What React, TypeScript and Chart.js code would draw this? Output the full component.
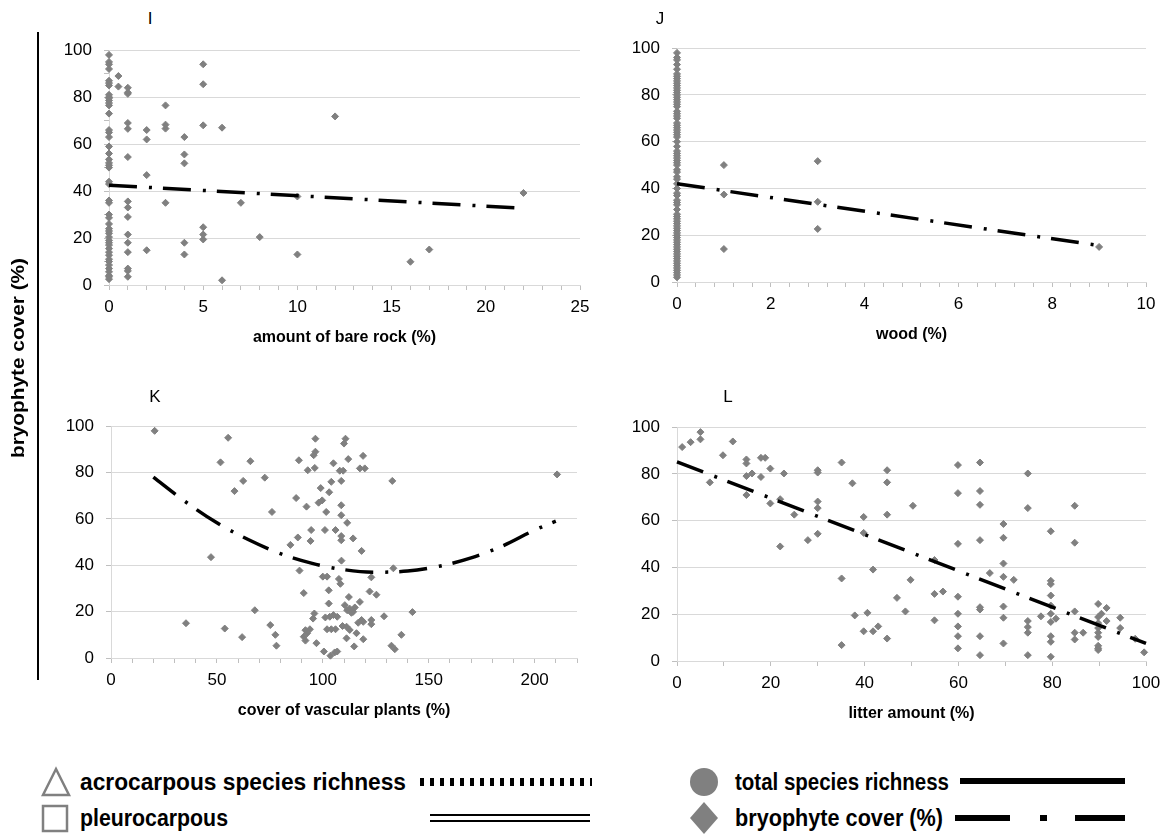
import React, { useEffect, useRef } from 'react';
import { Chart, registerables } from 'chart.js';

Chart.register(...registerables);

const FONT = "'Liberation Sans', Arial, sans-serif";
const GRAY = '#808080';

// ---------- Panel I : amount of bare rock ----------
const rockX = [
  0,0,0,0,0,0,0,0,0,0,0,0,0,0,0,0,0,0,0,0,0,0,0,0,0,0,0,0,0,0,0,0,0,0,0,0,0,0,0,0,0,0,0,0,0,0,0,0,
  0.5,0.5,
  1,1,1,1,1,1,1,1,1,1,1,1,1,1,1,
  2,2,2,2,
  3,3,3,3,
  4,4,4,4,4,
  5,5,5,5,5,5,
  6,6,7,8,10,10,12,16,17,22,
];
const rockY = [
  98,95,94,92,87,86,85,81,80,79.6,78.6,77.5,76.5,73,66,65,63,59,56,53.5,52,51,50,44,43,36,35,30,28.6,26,24,23,22,20.4,19,18,17,15.5,14,12.7,11,10,8.5,7,5.6,4,3.5,2.5,
  89,84.5,
  84,82,81.4,69,66.5,54.5,35.6,33,29,21.5,18,14,7,6,3.5,
  66,62,46.8,14.8,
  76.5,68.3,66.6,35,
  63,55.6,51.8,18,13,
  94,85.5,68,24.6,21.5,19.4,
  67,2,35,20.4,37.7,13,71.8,9.9,15.1,39.2,
];
const rockTrendX = [0, 22];
const rockTrendY = [42.5, 32.7];

// ---------- Panel J : wood ----------
const woodX = [
  0,0,0,0,0,0,0,0,0,0,0,0,0,0,0,0,0,0,0,0,0,0,0,0,0,0,0,0,0,0,0,0,0,0,0,0,0,0,0,0,
  0,0,0,0,0,0,0,0,0,0,0,0,0,0,0,0,0,0,0,0,0,0,0,0,0,0,0,0,0,0,0,0,0,0,0,0,0,0,0,0,
  1,1,1,3,3,3,9,
];
const woodY = [
  98,96,95,93,91,89,88,87,86,85,84,83,82,81,80,79,78,77,76,75,73,72,71,70,68,67,66,65,64,63,62,60,58,56,55,54,53,52,51,50,
  48,47,45,44,42,40,38,37,35,34,33,31,29,28,27,26,25,24,23,22,21,20,19,18,17,16,15,14,13,12,11,10,9,8,7,6,5,4,3,2,
  50,37.4,14.1,51.7,34.3,22.7,15,
];
const woodTrendX = [0, 9];
const woodTrendY = [42, 15.6];

// ---------- Panel K : cover of vascular plants ----------
const vascX = [
  20.6,55.3,51.7,65.8,58.3,62.4,72.6,76,47.2,35.4,53.7,61.9,67.9,75.2,77.6,78.1,
  88.7,92.9,95.7,96.5,96.5,96.2,105,110.7,110,112,108,109.6,119,117.5,119.8,
  87.4,92.3,98,99.7,101.6,99,103,104,108.7,108.7,108.7,111.5,
  94.5,88.2,84.7,94.2,101,106,108.7,108.7,114.3,118.3,108.8,132.8,210.6,
  89,100,102,102.8,91,102.8,107.6,108.3,112.3,122.9,133.3,122.1,125.3,
  96,95.4,101.2,103.3,105,106.8,102,104,106,91.8,92.6,93.9,91,91.8,97,100.5,103.6,106.8,105.6,
  111.2,111.5,110.4,112.7,115.1,117.5,114.3,113.5,109.3,112.7,116.7,118.3,119.1,122.9,122.9,115.9,111.2,119.1,114.8,128.9,142.3,137.1,132.4,134,
];
const vascY = [
  98,95,84.4,84.9,72,76.4,77.8,63,43.5,15,12.7,9,20.6,14.2,10,5.3,
  85.3,81,87.5,89,94.6,82,84,94.6,92.5,85.8,80.8,80.8,87.2,81.8,81.8,
  69,65.3,67,68,63,73.3,71.5,76,76.4,65.9,61.6,58.3,
  55.2,52,48.8,50.5,55.2,55.2,52.6,50.8,51.6,46.2,42,76.4,79.2,
  37.7,35.1,35.1,29.2,28,23.5,34.1,32,26.3,34.8,38.7,28.7,27.3,
  19.2,17,17.5,17.8,18.5,17.8,12.4,12.4,12.4,12,10.7,12.4,9.2,7.5,6.4,2.8,1,2.8,2.4,
  13.5,20.6,22.8,21.3,21.8,24.2,19.9,19.5,13.8,12.1,15.2,16.4,15.6,16.4,14.6,10.7,8.5,8.1,5,18,19.8,10,5.3,3.8,
];
const vascTrendX = [20, 35, 50, 65, 80, 95, 110, 125, 140, 155, 170, 185, 200, 210];
const vascTrendY = [78, 67.5, 58.3, 51, 45, 40.8, 38.1, 37, 37.5, 39.6, 43.2, 48.4, 55.2, 59];

// ---------- Panel L : litter amount ----------
const litterX = [
  1.1,2.9,5,5,7,9.8,11.9,14.8,14.8,14.8,14.8,16,17.9,18.8,17.9,19.9,19.9,22,22.8,22,25,27.9,30,30,30,30,30,
  35.1,35.1,35.1,37.4,37.9,39.8,39.8,40.6,39.8,41.8,41.8,42.9,44.8,44.8,44.8,44.8,46.9,48.7,49.8,50.3,
  54.9,54.9,56.7,54.9,59.9,59.9,59.9,59.9,59.9,59.9,59.9,59.9,64.6,64.6,64.6,64.6,64.6,64.6,64.6,64.6,
  66.7,69.6,69.6,69.6,69.6,69.6,69.6,69.6,71.8,74.8,74.8,74.8,74.8,74.8,74.8,77.6,
  79.7,79.7,79.7,79.7,79.7,79.7,79.7,79.7,79.7,79.7,80.8,84.8,84.8,84.8,84.8,84.8,86.6,
  89.8,90.5,89.8,89.8,89.8,89.8,89.8,89.8,89.8,89.8,91.6,91.6,94.5,94.5,97.7,99.6,
];
const litterY = [
  91.5,93.6,97.9,94.8,76.4,88,93.9,86.2,84.5,79.1,71,80.2,86.9,86.9,78.7,82.3,67.4,69.2,80.2,49,62.6,51.7,81.6,80.6,68.2,65.4,54.4,
  84.9,35.3,6.8,76,19.5,61.6,54.8,20.6,12.7,39.1,12.7,14.8,81.6,76.4,62.6,9.6,27,21.2,34.7,66.4,
  43.2,28.7,29.7,17.4,83.8,71.8,50.1,27.5,20.2,14.8,10.6,5.4,84.9,72.7,66.8,51.7,23,22,10.6,2.5,
  37.6,58.6,52.7,41.7,36,23.3,18.5,7.5,34.7,80.2,65.4,17.1,14.5,12.1,2.5,19.1,
  55.5,34.3,32.9,28,23.7,20.2,16.7,10.6,8.2,1.8,18.1,66.4,50.6,21.2,12.1,9.2,12.1,
  24.4,20.2,18.8,16.2,14.1,12.1,10.3,6.5,5.4,4.7,22.7,17.1,18.5,14.1,9.5,3.7,
];
const litterTrendX = [0, 100];
const litterTrendY = [85.2, 7.5];

const yTicks = [0, 10, 20, 30, 40, 50, 60, 70, 80, 90, 100];
const yMajorStep = 20;

const Y_AXIS_W = 70;
const PAD_TOP = 20;
const PAD_RIGHT = 30;
const X_AXIS_H = 75;

function makeTicks(min: number, max: number, step: number): number[] {
  const out: number[] = [];
  const n = Math.round((max - min) / step);
  for (let i = 0; i <= n; i++) out.push(+(min + i * step).toFixed(4));
  return out;
}

function isMultiple(v: number, m: number) {
  const r = v / m;
  return Math.abs(r - Math.round(r)) < 1e-6;
}

type PanelProps = {
  area: { left: number; right: number; top: number; bottom: number };
  xMin: number;
  xMax: number;
  xMinor: number;
  xMajor: number;
  xs: number[];
  ys: number[];
  trendX: number[];
  trendY: number[];
  smooth?: boolean;
  xTitle: string;
};

function Panel(p: PanelProps) {
  const ref = useRef<HTMLCanvasElement>(null);
  const left = p.area.left - Y_AXIS_W;
  const top = p.area.top - PAD_TOP;
  const width = p.area.right - p.area.left + Y_AXIS_W + PAD_RIGHT;
  const height = p.area.bottom - p.area.top + PAD_TOP + X_AXIS_H;

  useEffect(() => {
    if (!ref.current) return;
    const pts = p.xs.map((x, i) => ({ x, y: p.ys[i] }));
    const trend = p.trendX.map((x, i) => ({ x, y: p.trendY[i] }));
    const xTicks = makeTicks(p.xMin, p.xMax, p.xMinor);
    const chart = new Chart(ref.current, {
      type: 'scatter',
      data: {
        datasets: [
          {
            label: 'trend',
            data: trend,
            showLine: true,
            borderColor: '#000',
            backgroundColor: '#000',
            borderWidth: 3.5,
            borderDash: [28, 12, 3, 11],
            borderCapStyle: 'butt',
            pointRadius: 0,
            fill: false,
            order: 0,
            clip: false,
            cubicInterpolationMode: p.smooth ? 'monotone' : 'default',
          } as any,
          {
            label: 'bryophyte cover (%)',
            data: pts,
            pointStyle: 'rectRot',
            pointRadius: 3.5,
            backgroundColor: GRAY,
            borderColor: GRAY,
            borderWidth: 1,
            order: 1,
            clip: false,
          } as any,
        ],
      },
      options: {
        animation: false,
        responsive: false,
        events: [],
        layout: { padding: { top: PAD_TOP, right: PAD_RIGHT, left: 0, bottom: 0 } },
        plugins: { legend: { display: false }, tooltip: { enabled: false } },
        scales: {
          x: {
            type: 'linear',
            position: 'bottom',
            min: p.xMin,
            max: p.xMax,
            afterBuildTicks: (s: any) => {
              s.ticks = xTicks.map((v) => ({ value: v }));
            },
            afterFit: (s: any) => {
              s.height = X_AXIS_H;
            },
            ticks: {
              autoSkip: false,
              maxRotation: 0,
              minRotation: 0,
              padding: 7,
              color: '#000',
              font: { family: FONT, size: 17 },
              callback: (v: any) => (isMultiple(Number(v), p.xMajor) ? String(Math.round(Number(v))) : ''),
            },
            grid: { drawOnChartArea: false, drawTicks: true, tickLength: 5, color: '#bfbfbf', tickColor: '#bfbfbf' },
            border: { display: true, color: '#d9d9d9', width: 1 },
            title: {
              display: true,
              text: p.xTitle,
              color: '#000',
              font: { family: FONT, size: 16, weight: 'bold' },
              padding: { top: 0, bottom: 13 },
            },
          },
          y: {
            type: 'linear',
            min: 0,
            max: 100,
            afterBuildTicks: (s: any) => {
              s.ticks = yTicks.map((v) => ({ value: v }));
            },
            afterFit: (s: any) => {
              s.width = Y_AXIS_W;
            },
            ticks: {
              padding: 12,
              color: '#000',
              font: { family: FONT, size: 17 },
              callback: (v: any) => (isMultiple(Number(v), yMajorStep) ? String(v) : ''),
            },
            grid: {
              color: (c: any) => (c.tick && isMultiple(c.tick.value, yMajorStep) ? '#d9d9d9' : 'rgba(0,0,0,0)'),
              tickColor: '#bfbfbf',
              tickLength: 5,
              drawTicks: true,
            },
            border: { display: true, color: '#d9d9d9', width: 1 },
          },
        },
      } as any,
    });
    return () => chart.destroy();
  }, []);

  return (
    <canvas
      ref={ref}
      width={width}
      height={height}
      style={{ position: 'absolute', left, top, width, height }}
    />
  );
}

const panelLetter: React.CSSProperties = {
  position: 'absolute',
  fontFamily: FONT,
  fontSize: 17,
  color: '#000',
  transform: 'translate(-50%, -50%)',
  lineHeight: 1,
};

const legendFont = { fontFamily: FONT, fontSize: 23, fontWeight: 700 as const };

export default function App() {
  return (
    <div
      style={{
        position: 'absolute',
        left: 0,
        top: 0,
        width: 1172,
        height: 834,
        background: '#fff',
        overflow: 'hidden',
      }}
    >
      <Panel
        area={{ left: 109, right: 580, top: 48, bottom: 285 }}
        xMin={0}
        xMax={25}
        xMinor={1}
        xMajor={5}
        xs={rockX}
        ys={rockY}
        trendX={rockTrendX}
        trendY={rockTrendY}
        xTitle="amount of bare rock (%)"
      />
      <Panel
        area={{ left: 677, right: 1146, top: 46, bottom: 282 }}
        xMin={0}
        xMax={10}
        xMinor={0.4}
        xMajor={2}
        xs={woodX}
        ys={woodY}
        trendX={woodTrendX}
        trendY={woodTrendY}
        xTitle="wood (%)"
      />
      <Panel
        area={{ left: 111, right: 577, top: 424, bottom: 658 }}
        xMin={0}
        xMax={220}
        xMinor={10}
        xMajor={50}
        xs={vascX}
        ys={vascY}
        trendX={vascTrendX}
        trendY={vascTrendY}
        smooth
        xTitle="cover of vascular plants (%)"
      />
      <Panel
        area={{ left: 677, right: 1146, top: 425, bottom: 661 }}
        xMin={0}
        xMax={100}
        xMinor={10}
        xMajor={20}
        xs={litterX}
        ys={litterY}
        trendX={litterTrendX}
        trendY={litterTrendY}
        xTitle="litter amount (%)"
      />

      <div style={{ ...panelLetter, left: 150, top: 18 }}>I</div>
      <div style={{ ...panelLetter, left: 660, top: 18 }}>J</div>
      <div style={{ ...panelLetter, left: 155, top: 396 }}>K</div>
      <div style={{ ...panelLetter, left: 728, top: 396 }}>L</div>

      <div style={{ position: 'absolute', left: 37, top: 32, width: 2, height: 648, background: '#000' }} />
      <svg width={40} height={700} style={{ position: 'absolute', left: 0, top: 0 }}>
        <text
          x={0}
          y={0}
          transform="translate(24 358) rotate(-90)"
          textAnchor="middle"
          textLength={200}
          lengthAdjust="spacingAndGlyphs"
          style={{ fontFamily: FONT, fontSize: 18, fontWeight: 700 }}
          fill="#000"
        >
          bryophyte cover (%)
        </text>
      </svg>

      <svg
        width={1172}
        height={84}
        style={{ position: 'absolute', left: 0, top: 750 }}
        viewBox="0 750 1172 84"
      >
        <polygon points="56,769 43,795 69,795" fill="#fff" stroke={GRAY} strokeWidth={2.5} />
        <text x={80} y={790} style={legendFont} fill="#000" textLength={326} lengthAdjust="spacingAndGlyphs">
          acrocarpous species richness
        </text>
        <line x1={420} y1={782} x2={592} y2={782} stroke="#000" strokeWidth={8} strokeDasharray="4 6" />

        <rect x={43} y={806} width={24} height={25} fill="#fff" stroke={GRAY} strokeWidth={2.5} />
        <text x={80} y={826} style={legendFont} fill="#000" textLength={148} lengthAdjust="spacingAndGlyphs">
          pleurocarpous
        </text>
        <line x1={430} y1={815} x2={590} y2={815} stroke="#000" strokeWidth={2} />
        <line x1={430} y1={821} x2={590} y2={821} stroke="#000" strokeWidth={2} />

        <circle cx={704} cy={782} r={14} fill={GRAY} />
        <text x={735} y={790} style={legendFont} fill="#000" textLength={214} lengthAdjust="spacingAndGlyphs">
          total species richness
        </text>
        <line x1={960} y1={781} x2={1125} y2={781} stroke="#000" strokeWidth={6} />

        <polygon points="704,802 718,818 704,834 690,818" fill={GRAY} />
        <text x={735} y={826} style={legendFont} fill="#000" textLength={208} lengthAdjust="spacingAndGlyphs">
          bryophyte cover (%)
        </text>
        <line x1={955} y1={818} x2={1010} y2={818} stroke="#000" strokeWidth={6} />
        <line x1={1040} y1={818} x2={1047} y2={818} stroke="#000" strokeWidth={6} />
        <line x1={1075} y1={818} x2={1125} y2={818} stroke="#000" strokeWidth={6} />
      </svg>
    </div>
  );
}
